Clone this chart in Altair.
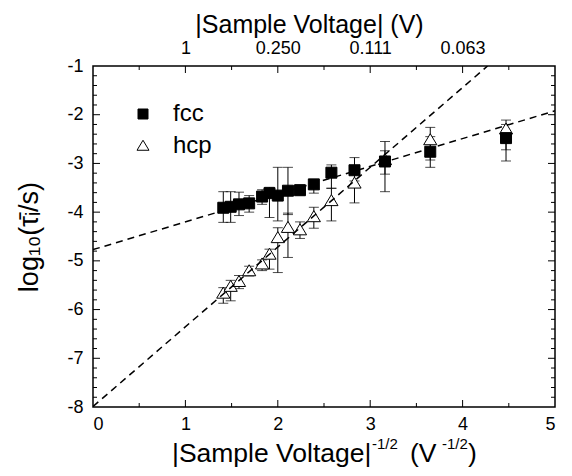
import altair as alt
import pandas as pd

FONT = "Liberation Sans"

# |V|^-1/2 positions of the measurements
X_VALS = [1.41, 1.49, 1.58, 1.69, 1.83, 1.91, 2.00, 2.11, 2.24, 2.39, 2.58, 2.83, 3.16, 3.65, 4.47]

FCC_Y = [-3.91, -3.89, -3.84, -3.82, -3.68, -3.61, -3.66, -3.56, -3.55, -3.43, -3.19, -3.14, -2.96, -2.76, -2.48]
FCC_LO = [-4.21, -4.21, -4.07, -4.00, -3.84, -4.11, -4.18, -4.05, -3.65, -3.61, -3.51, -3.36, -3.22, -3.08, -2.95]
FCC_HI = [-3.58, -3.58, -3.59, -3.66, -3.54, -3.49, -3.08, -3.08, -3.44, -3.33, -3.03, -2.88, -2.74, -2.45, -2.20]

HCP_Y = [-5.67, -5.53, -5.43, -5.21, -5.07, -4.87, -4.53, -4.32, -4.37, -4.10, -3.77, -3.41, -2.93, -2.52, -2.30]
HCP_LO = [-5.87, -5.82, -5.57, -5.31, -5.20, -5.17, -5.24, -4.93, -4.54, -4.33, -4.18, -3.81, -3.58, -2.93, -2.72]
HCP_HI = [-5.55, -5.40, -5.30, -5.11, -4.98, -4.76, -4.32, -4.02, -4.20, -3.90, -3.51, -3.10, -2.55, -2.26, -2.11]

# dashed linear fits (end points)
FIT_FCC_X = [0.0, 5.0]
FIT_FCC_Y = [-4.77, -1.92]
FIT_HCP_X = [0.0, 4.27]
FIT_HCP_Y = [-7.99, -1.0]

# axes
X_LABELS = [0, 1, 2, 3, 4, 5]
TOP_LABELS = [1, 2, 3, 4]
Y_LABELS = [-8, -7, -6, -5, -4, -3, -2, -1]
X_MAJOR = [1, 2, 3, 4]
X_MINOR = [0.5, 1.5, 2.5, 3.5, 4.5]
Y_MAJOR = [-7, -6, -5, -4, -3, -2]
Y_MINOR = [round(-8 + 0.2 * i, 1) for i in range(1, 35) if i % 5 != 0]

W, H = 462, 341
TRIANGLE = "M-1.2,0.85L1.2,0.85L0,-1.15Z"

rows = []
for name, ys, lo, hi in [("hcp", HCP_Y, HCP_LO, HCP_HI), ("fcc", FCC_Y, FCC_LO, FCC_HI)]:
    for x, y, l, h in zip(X_VALS, ys, lo, hi):
        rows.append({"x": x, "y": y, "lo": l, "hi": h, "phase": name})
pts = pd.DataFrame(rows)

fits = pd.DataFrame(
    [{"x": x, "y": y, "fit": "fcc"} for x, y in zip(FIT_FCC_X, FIT_FCC_Y)]
    + [{"x": x, "y": y, "fit": "hcp"} for x, y in zip(FIT_HCP_X, FIT_HCP_Y)]
)

xs = alt.Scale(domain=[0, 5], nice=False, zero=False)
ys_ = alt.Scale(domain=[-8, -1], nice=False, zero=False)

bottom_axis = alt.Axis(values=X_LABELS, ticks=False, domain=False, grid=False,
                       labelPadding=8, labelFontSize=18, labelFont=FONT,
                       labelColor="black", title=None, labelExpr="'' + datum.value")
left_axis = alt.Axis(values=Y_LABELS, ticks=False, domain=False, grid=False,
                     labelPadding=10, labelFontSize=18, labelFont=FONT,
                     labelColor="black", labelExpr="'' + datum.value",
                     title="log₁₀(τ̄ᵢ/s)", titleFont=FONT, titleFontSize=27,
                     titleFontWeight="normal", titleColor="black",
                     titleX=-64, titleY=H / 2, titleAngle=270,
                     titleAlign="center", titleBaseline="middle")
top_axis = alt.Axis(orient="top", values=TOP_LABELS, ticks=False, domain=False,
                    grid=False, labelPadding=9, labelFontSize=18, labelFont=FONT,
                    labelColor="black",
                    labelExpr="datum.value == 1 ? '1' : format(1/(datum.value*datum.value), '.3f')",
                    title="|Sample Voltage| (V)", titleFont=FONT, titleFontSize=25,
                    titleFontWeight="normal", titleColor="black",
                    titleX=216, titleY=-34, titleAlign="center",
                    titleBaseline="alphabetic", titleAngle=0)


def xticks(vals, length, top=False, axis=None):
    df = pd.DataFrame({"v": vals})
    y0 = 0 if top else H
    y1 = length if top else H - length
    return alt.Chart(df).mark_rule(color="black", strokeWidth=1).encode(
        x=alt.X("v:Q", scale=xs, axis=axis),
        y=alt.value(y0), y2=alt.value(y1))


def yticks(vals, length, right=False):
    df = pd.DataFrame({"v": vals})
    x0 = W if right else 0
    x1 = W - length if right else length
    return alt.Chart(df).mark_rule(color="black", strokeWidth=1).encode(
        y=alt.Y("v:Q", scale=ys_, axis=None),
        x=alt.value(x0), x2=alt.value(x1))


ticks = [
    xticks(X_MAJOR, 7),
    xticks(X_MINOR, 4),
    xticks(X_MAJOR, 7, top=True, axis=top_axis),
    xticks(X_MINOR, 4, top=True),
    yticks(Y_MAJOR, 7),
    yticks(Y_MINOR, 4),
    yticks(Y_MAJOR, 7, right=True),
    yticks(Y_MINOR, 4, right=True),
]

base = alt.Chart(pts)
bars = base.mark_rule(color="black", strokeWidth=1).encode(
    x=alt.X("x:Q", scale=xs, axis=None),
    y=alt.Y("lo:Q", scale=ys_, axis=None), y2="hi:Q")
cap_lo = base.mark_tick(color="black", orient="horizontal", size=10, thickness=1).encode(
    x=alt.X("x:Q", scale=xs, axis=None), y=alt.Y("lo:Q", scale=ys_, axis=None))
cap_hi = base.mark_tick(color="black", orient="horizontal", size=10, thickness=1).encode(
    x=alt.X("x:Q", scale=xs, axis=None), y=alt.Y("hi:Q", scale=ys_, axis=None))

legend = alt.Legend(orient="none", legendX=38, legendY=36, title=None,
                    labelFontSize=24, labelFont=FONT, labelColor="black",
                    symbolStrokeColor="black", symbolStrokeWidth=1, symbolSize=100,
                    labelOffset=18, rowPadding=8, padding=0)
points = base.mark_point(opacity=1, strokeWidth=1, size=121).encode(
    x=alt.X("x:Q", scale=xs, axis=bottom_axis),
    y=alt.Y("y:Q", scale=ys_, axis=left_axis),
    shape=alt.Shape("phase:N", scale=alt.Scale(domain=["fcc", "hcp"], range=["square", TRIANGLE]), legend=legend),
    fill=alt.Fill("phase:N", scale=alt.Scale(domain=["fcc", "hcp"], range=["black", "white"]), legend=legend),
    stroke=alt.Stroke("phase:N", scale=alt.Scale(domain=["fcc", "hcp"], range=["black", "black"]), legend=legend),
    order=alt.Order("phase:N", sort="descending"),
)

lines = alt.Chart(fits).mark_line(color="black", strokeWidth=1.5, strokeDash=[7, 5], clip=True).encode(
    x=alt.X("x:Q", scale=xs, axis=None),
    y=alt.Y("y:Q", scale=ys_, axis=None),
    detail="fit:N")

one = alt.Data(values=[{}])


def txt(s, x, y, size):
    return alt.Chart(one).mark_text(text=s, align="left", baseline="alphabetic",
                                    font=FONT, fontSize=size, color="black").encode(
        x=alt.value(x), y=alt.value(y))


xtitle = [
    txt("|Sample Voltage|", 79, 396, 26.5),
    txt("-1/2", 279, 383, 15),
    txt("(V", 317, 396, 26.5),
    txt("-1/2", 349, 383, 15),
    txt(")", 375, 396, 26.5),
]

chart = alt.layer(*ticks, bars, cap_lo, cap_hi, points, lines, *xtitle).resolve_axis(
    x="independent", y="independent").properties(
    width=W, height=H,
    padding={"left": 85, "top": 58, "right": 9, "bottom": 61},
    autosize=alt.AutoSizeParams(type="none"),
    background="white",
).configure_view(stroke="black", strokeWidth=1.5)

chart.save("out.html", embed_options={"renderer": "svg", "actions": False})
